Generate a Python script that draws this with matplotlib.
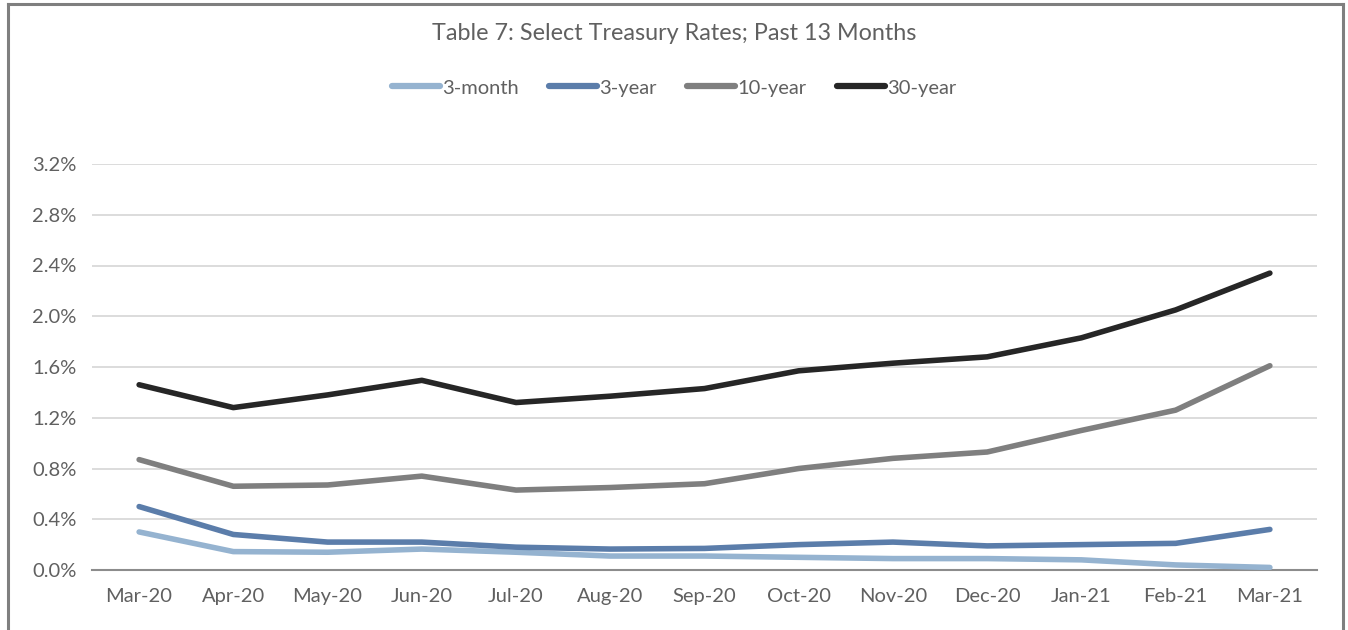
import matplotlib
matplotlib.use("Agg")
import matplotlib.pyplot as plt
from matplotlib.lines import Line2D
from matplotlib.ticker import FuncFormatter

months = ["Mar-20", "Apr-20", "May-20", "Jun-20", "Jul-20", "Aug-20", "Sep-20",
          "Oct-20", "Nov-20", "Dec-20", "Jan-21", "Feb-21", "Mar-21"]
rate_3m = [0.30, 0.145, 0.14, 0.165, 0.14, 0.11, 0.11, 0.10, 0.09, 0.09, 0.08, 0.04, 0.02]
rate_3y = [0.50, 0.28, 0.22, 0.22, 0.18, 0.165, 0.17, 0.20, 0.22, 0.19, 0.20, 0.21, 0.32]
rate_10y = [0.87, 0.66, 0.67, 0.74, 0.63, 0.65, 0.68, 0.80, 0.88, 0.93, 1.10, 1.26, 1.61]
rate_30y = [1.46, 1.28, 1.38, 1.495, 1.32, 1.37, 1.43, 1.57, 1.63, 1.68, 1.83, 2.05, 2.34]
series_names = ["3-month", "3-year", "10-year", "30-year"]
yticks = [0.0, 0.4, 0.8, 1.2, 1.6, 2.0, 2.4, 2.8, 3.2]

colors = ["#95B3D0", "#5B7DAA", "#7F7F7F", "#262626"]
text_color = "#606060"
plt.rcParams["font.family"] = ["Lato", "DejaVu Sans"]

fig = plt.figure(figsize=(13.48, 6.3), dpi=100)
ax = fig.add_axes([92 / 1348, 1 - 570 / 630, (1317 - 92) / 1348, (570 - 164) / 630])

x = list(range(len(months)))
for vals, c in zip([rate_3m, rate_3y, rate_10y, rate_30y], colors):
    ax.plot(x, vals, color=c, lw=4.0, solid_capstyle="round", solid_joinstyle="round", zorder=3)

ax.set_xlim(-0.5, len(months) - 0.5)
ax.set_ylim(0, 3.2)
ax.set_yticks(yticks)
ax.yaxis.set_major_formatter(FuncFormatter(lambda v, p: f"{v:.1f}%"))
ax.set_xticks(x)
ax.set_xticklabels(months)
ax.grid(axis="y", color="#D9D9D9", lw=1.3, zorder=0)
ax.set_axisbelow(True)
for s in ["top", "right", "left"]:
    ax.spines[s].set_visible(False)
ax.spines["bottom"].set_color("#8C8C8C")
ax.spines["bottom"].set_linewidth(1.5)
ax.spines["bottom"].set_zorder(2)
ax.tick_params(axis="both", length=0, labelsize=14.5, labelcolor=text_color)
ax.tick_params(axis="x", pad=13)
ax.tick_params(axis="y", pad=11)

fig.text(0.5, 1 - 34 / 630, "Table 7: Select Treasury Rates; Past 13 Months",
         ha="center", va="center", fontsize=16.8, color=text_color)

handles = [Line2D([0], [0], color=c, lw=4.5, solid_capstyle="round") for c in colors]
fig.legend(handles, series_names, loc="center", bbox_to_anchor=(0.5, 1 - 88 / 630),
           ncol=4, frameon=False, fontsize=14.5, labelcolor=text_color,
           handlelength=2.4, handletextpad=0.1, columnspacing=1.5)

# outer frame
frame_kw = dict(color="#7F7F7F", lw=2.2, transform=fig.transFigure)
fig.add_artist(Line2D([8 / 1348, 8 / 1348], [0, 1 - 4 / 630], **frame_kw))
fig.add_artist(Line2D([8 / 1348, 1343 / 1348], [1 - 4 / 630, 1 - 4 / 630], **frame_kw))
fig.add_artist(Line2D([1343 / 1348, 1343 / 1348], [0, 1 - 4 / 630], **frame_kw))

fig.savefig("out.png", dpi=100, facecolor="white")
